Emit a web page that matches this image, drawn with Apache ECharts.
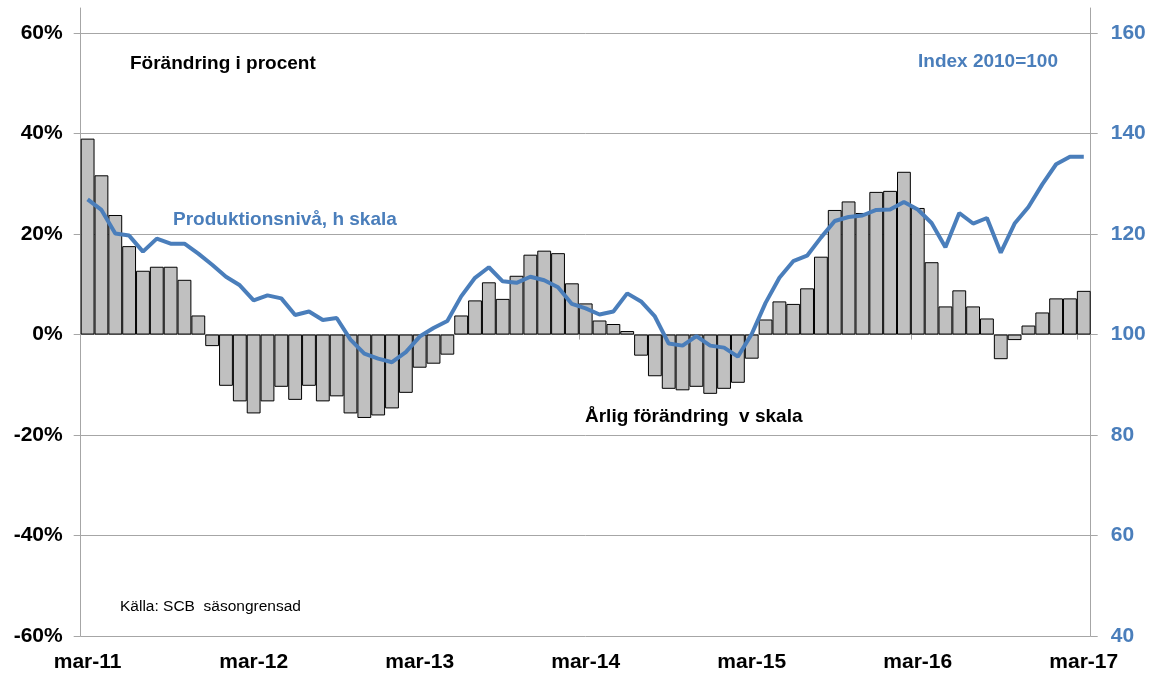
<!DOCTYPE html>
<html>
<head>
<meta charset="utf-8">
<script src="https://cdn.jsdelivr.net/npm/echarts@6/dist/echarts.min.js"></script>
<style>
  html, body { margin: 0; padding: 0; background: #fff; }
  #main { width: 1155px; height: 675px; }
</style>
</head>
<body>
<div id="main"></div>
<script>
// monthly categories mar-11 .. mar-17
var months = ['jan', 'feb', 'mar', 'apr', 'maj', 'jun', 'jul', 'aug', 'sep', 'okt', 'nov', 'dec'];
var categories = [];
for (var y = 11; y <= 17; y++) {
  for (var m = 0; m < 12; m++) {
    if ((y === 11 && m < 2) || (y === 17 && m > 2)) continue;
    categories.push(months[m] + '-' + y);
  }
}

// årlig förändring, procent (vänster skala)
var yearlyChange = [
  39.0, 31.7, 23.8, 17.6, 12.7, 13.5, 13.5, 10.9, 3.8, -2.3, -10.2, -13.3,
  -15.7, -13.3, -10.4, -13.0, -10.2, -13.3, -12.3, -15.7, -16.6, -16.1, -14.7, -11.6,
  -6.6, -5.8, -4.0, 3.8, 6.8, 10.4, 7.1, 11.7, 15.9, 16.7, 16.2, 10.2,
  6.2, 2.8, 2.1, 0.7, -4.2, -8.3, -10.8, -11.1, -10.4, -11.8, -10.8, -9.6,
  -4.8, 3.0, 6.6, 6.1, 9.2, 15.5, 24.8, 26.5, 24.2, 28.4, 28.6, 32.4,
  25.2, 14.4, 5.6, 8.8, 5.6, 3.2, -4.9, -1.1, 1.8, 4.4, 7.2, 7.2,
  8.7
];

// produktionsnivå, index 2010=100 (höger skala)
var productionIndex = [
  126.9, 124.8, 120.1, 119.7, 116.5, 119.1, 118.1, 118.1, 116.1, 113.9, 111.5, 109.8,
  106.8, 107.8, 107.2, 103.9, 104.6, 102.9, 103.3, 99.0, 96.2, 95.2, 94.5, 96.5,
  99.6, 101.3, 102.7, 107.6, 111.3, 113.4, 110.6, 110.3, 111.5, 110.8, 109.4, 106.1,
  105.2, 104.0, 104.6, 108.2, 106.6, 103.6, 98.2, 97.8, 99.7, 97.8, 97.4, 95.6,
  100.1, 106.3, 111.3, 114.6, 115.7, 119.3, 122.6, 123.4, 123.7, 124.8, 124.9, 126.4,
  124.9, 122.2, 117.4, 124.2, 122.1, 123.2, 116.3, 122.1, 125.4, 129.9, 133.9, 135.4,
  135.4
];

var leftTicks = [-60, -40, -20, 0, 20, 40, 60];
var rightTicks = [40, 60, 80, 100, 120, 140, 160];

var font = "'Liberation Sans', Arial, sans-serif";
var gridGray = '#a6a6a6';
var blue = '#4a7ebb';

function note(text, left, top, size, color, weight) {
  return {
    text: text, left: left, top: top, padding: 0,
    textStyle: { fontSize: size, fontWeight: weight, color: color, fontFamily: font }
  };
}

var chart = echarts.init(document.getElementById('main'));
var option = {
  animation: false,
  backgroundColor: '#fff',
  textStyle: { fontFamily: font },
  title: [
    note('Förändring i procent', 130, 54, 19, '#000', 'bold'),
    note('Index 2010=100', 918, 52, 19, blue, 'bold'),
    note('Produktionsnivå, h skala', 173, 210, 19, blue, 'bold'),
    note('Årlig förändring  v skala', 585, 407, 19, '#000', 'bold'),
    note('Källa: SCB  säsongrensad', 120, 599, 15.5, '#000', 'normal')
  ],
  grid: { left: 80.7, right: 64.3, top: 8, bottom: 39, outerBoundsMode: 'none' },
  xAxis: [
    {
      type: 'category',
      data: categories,
      position: 'bottom',
      boundaryGap: true,
      axisLine: { show: false, onZero: false },
      axisTick: { show: false },
      splitLine: { show: false },
      axisLabel: { interval: 11, fontSize: 21, fontWeight: 'bold', color: '#000', margin: 16, fontFamily: font }
    },
    {
      type: 'category',
      data: categories,
      position: 'bottom',
      boundaryGap: true,
      axisLine: { show: true, onZero: true, lineStyle: { color: gridGray, width: 1 } },
      axisTick: { show: true, interval: 11, length: 5, lineStyle: { color: gridGray } },
      axisLabel: { show: false },
      splitLine: { show: false }
    }
  ],
  yAxis: [
    {
      type: 'value',
      position: 'left',
      min: -60,
      max: 65,
      interval: 20,
      axisLine: { show: true, lineStyle: { color: gridGray, width: 1 } },
      axisTick: { show: true, length: 7, customValues: leftTicks, lineStyle: { color: gridGray } },
      axisLabel: { customValues: leftTicks, formatter: '{value}%', fontSize: 21, fontWeight: 'bold',
        color: '#000', margin: 18, fontFamily: font },
      splitLine: { show: true, lineStyle: { color: gridGray, width: 1 } }
    },
    {
      type: 'value',
      position: 'right',
      min: 40,
      max: 165,
      interval: 20,
      axisLine: { show: true, lineStyle: { color: gridGray, width: 1 } },
      axisTick: { show: true, length: 7, customValues: rightTicks, lineStyle: { color: gridGray } },
      axisLabel: { customValues: rightTicks, fontSize: 21, fontWeight: 'bold', color: blue,
        margin: 20, fontFamily: font },
      splitLine: { show: false }
    }
  ],
  series: [
    {
      name: 'Årlig förändring',
      type: 'bar',
      xAxisIndex: 0,
      yAxisIndex: 0,
      data: yearlyChange,
      barCategoryGap: '0%',
      itemStyle: { color: '#c0c0c0', borderColor: '#000', borderWidth: 1 },
      z: 2
    },
    {
      name: 'Produktionsnivå',
      type: 'line',
      xAxisIndex: 0,
      yAxisIndex: 1,
      data: productionIndex,
      symbol: 'none',
      smooth: false,
      lineStyle: { color: blue, width: 4 },
      z: 3
    }
  ]
};
chart.setOption(option);
</script>
</body>
</html>
